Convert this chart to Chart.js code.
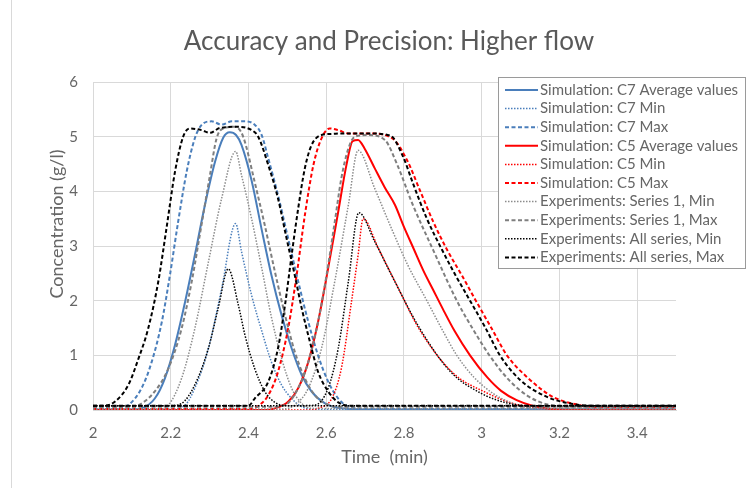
<!DOCTYPE html>
<html>
<head>
<meta charset="utf-8">
<script src="https://cdn.jsdelivr.net/npm/chart.js@4.4.1/dist/chart.umd.min.js"></script>
<style>
  html, body { margin: 0; padding: 0; background: #fff; }
  #chart { display: block; }
</style>
</head>
<body>
<canvas id="chart" width="750" height="488"></canvas>
<script>
const FONT = "Lato";

// tick labels on the time axis
const xTicks = [2, 2.2, 2.4, 2.6, 2.8, 3, 3.2, 3.4];

// [time (min), concentration (g/l)]
const c7Avg = [[2.0,0.01],[2.1,0.01],[2.125,0.03],[2.159,0.21],[2.185,0.58],[2.211,1.19],[2.237,1.98],[2.262,2.83],[2.288,3.75],[2.314,4.54],[2.335,4.98],[2.352,5.08],[2.368,5.03],[2.382,4.85],[2.408,4.2],[2.434,3.3],[2.459,2.47],[2.485,1.74],[2.511,1.13],[2.537,0.64],[2.562,0.34],[2.597,0.12],[2.639,0.03],[2.7,0.01],[3.5,0.01]];
const c7Min = [[2.0,0.01],[2.2,0.01],[2.237,0.09],[2.262,0.4],[2.297,1.13],[2.331,2.22],[2.367,3.41],[2.382,2.9],[2.408,2.1],[2.434,1.45],[2.459,0.88],[2.485,0.46],[2.511,0.21],[2.537,0.06],[2.57,0.01],[3.5,0.01]];
const c7Max = [[2.0,0.03],[2.06,0.03],[2.091,0.09],[2.125,0.4],[2.151,0.88],[2.177,1.61],[2.198,2.47],[2.219,3.44],[2.241,4.36],[2.262,4.97],[2.279,5.21],[2.305,5.28],[2.331,5.22],[2.357,5.28],[2.39,5.28],[2.416,5.22],[2.434,5.03],[2.451,4.6],[2.476,3.93],[2.502,3.14],[2.528,2.35],[2.554,1.61],[2.579,1.0],[2.605,0.52],[2.631,0.21],[2.657,0.06],[2.7,0.02],[3.5,0.02]];

const c5Avg = [[2.0,0],[2.44,0],[2.468,0.03],[2.502,0.15],[2.528,0.4],[2.554,0.88],[2.579,1.61],[2.605,2.59],[2.631,3.63],[2.652,4.48],[2.668,4.92],[2.682,4.94],[2.699,4.78],[2.725,4.42],[2.75,4.08],[2.777,3.75],[2.8,3.35],[2.825,2.95],[2.85,2.55],[2.875,2.2],[2.9,1.85],[2.93,1.45],[2.97,1.0],[3.014,0.6],[3.05,0.35],[3.09,0.18],[3.13,0.08],[3.18,0.02],[3.25,0],[3.5,0]];
const c5Min = [[2.0,0],[2.55,0],[2.579,0.03],[2.614,0.21],[2.639,0.76],[2.665,1.98],[2.682,2.83],[2.695,3.5],[2.734,2.96],[2.777,2.35],[2.841,1.46],[2.926,0.68],[3.014,0.31],[3.08,0.12],[3.15,0.03],[3.2,0],[3.5,0]];
const c5Max = [[2.0,0.02],[2.4,0.02],[2.416,0.04],[2.451,0.27],[2.476,0.7],[2.502,1.49],[2.524,2.47],[2.545,3.56],[2.567,4.48],[2.588,4.97],[2.609,5.15],[2.631,5.12],[2.657,5.06],[2.708,5.06],[2.77,4.97],[2.808,4.57],[2.841,4.02],[2.875,3.45],[2.911,2.93],[2.95,2.45],[2.985,2.0],[3.025,1.5],[3.065,1.0],[3.117,0.6],[3.183,0.24],[3.245,0.1],[3.3,0.05],[3.5,0.05]];

// experiments: one trace for the C7 peak, one for the C5 peak
const s1MinC7 = [[2.0,0.02],[2.17,0.02],[2.194,0.09],[2.228,0.58],[2.262,1.49],[2.297,2.71],[2.331,3.87],[2.367,4.73],[2.382,4.3],[2.408,3.5],[2.434,2.6],[2.459,1.7],[2.485,0.95],[2.511,0.4],[2.537,0.12],[2.56,0.03],[3.5,0.02]];
const s1MinC5 = [[2.0,0.02],[2.49,0.02],[2.519,0.09],[2.554,0.4],[2.588,1.13],[2.622,2.35],[2.657,3.75],[2.682,4.75],[2.725,4.05],[2.768,3.32],[2.81,2.65],[2.859,2.0],[2.9,1.45],[2.936,1.0],[2.98,0.6],[3.03,0.3],[3.08,0.12],[3.13,0.04],[3.5,0.02]];
const s1MaxC7 = [[2.0,0.06],[2.09,0.06],[2.117,0.09],[2.159,0.34],[2.194,0.76],[2.228,1.49],[2.254,2.35],[2.279,3.38],[2.301,4.3],[2.318,4.97],[2.335,5.15],[2.365,5.18],[2.38,5.1],[2.391,4.9],[2.416,4.17],[2.442,3.38],[2.468,2.53],[2.494,1.74],[2.519,1.07],[2.545,0.58],[2.571,0.27],[2.597,0.12],[2.63,0.06],[3.5,0.06]];
const s1MaxC5 = [[2.0,0.06],[2.46,0.06],[2.494,0.09],[2.528,0.4],[2.554,0.88],[2.579,1.61],[2.601,2.47],[2.622,3.44],[2.639,4.24],[2.657,4.78],[2.674,5.0],[2.708,5.03],[2.751,4.94],[2.782,4.5],[2.823,3.75],[2.875,2.93],[2.936,2.0],[2.98,1.45],[3.02,1.0],[3.07,0.55],[3.12,0.25],[3.17,0.1],[3.22,0.06],[3.5,0.06]];
const allMinC7 = [[2.0,0.08],[2.2,0.08],[2.228,0.12],[2.262,0.46],[2.297,1.13],[2.322,1.86],[2.348,2.58],[2.374,1.92],[2.391,1.37],[2.416,0.76],[2.442,0.34],[2.468,0.14],[2.5,0.08],[3.5,0.08]];
const allMinC5 = [[2.0,0.08],[2.54,0.08],[2.571,0.09],[2.605,0.4],[2.631,1.13],[2.657,2.35],[2.684,3.61],[2.725,3.08],[2.768,2.47],[2.84,1.5],[2.92,0.7],[3.0,0.3],[3.07,0.12],[3.12,0.08],[3.5,0.08]];
const allMaxC7 = [[2.0,0.08],[2.03,0.08],[2.056,0.15],[2.091,0.46],[2.117,0.94],[2.142,1.49],[2.168,2.35],[2.189,3.32],[2.211,4.36],[2.232,5.0],[2.249,5.15],[2.279,5.12],[2.301,5.07],[2.327,5.16],[2.374,5.18],[2.408,5.12],[2.425,5.0],[2.451,4.48],[2.476,3.87],[2.498,3.14],[2.519,2.47],[2.537,1.86],[2.558,1.25],[2.579,0.7],[2.605,0.34],[2.631,0.14],[2.66,0.08],[3.5,0.08]];
const allMaxC5 = [[2.0,0.08],[2.4,0.08],[2.416,0.21],[2.451,0.52],[2.476,1.13],[2.494,1.92],[2.511,2.83],[2.528,3.69],[2.545,4.42],[2.562,4.84],[2.588,5.03],[2.614,5.05],[2.64,5.06],[2.7,5.06],[2.765,5.02],[2.798,4.63],[2.823,4.15],[2.859,3.5],[2.898,2.93],[2.93,2.5],[2.97,2.0],[3.01,1.5],[3.047,1.0],[3.099,0.55],[3.168,0.24],[3.227,0.12],[3.28,0.08],[3.5,0.08]];

const BLUE = "#4a7ebb", RED = "#ff0000", GREY = "#7f7f7f", LIGHTGREY = "#8c8c8c", BLACK = "#000000";
const TEXT = "#666666";
const DASH = [4, 2.5], DOT = [1.5, 1.5];

const series = [
  { label: "Simulation: C7 Average values", parts: [c7Avg], color: BLUE, dash: [], width: 2 },
  { label: "Simulation: C7 Min", parts: [c7Min], color: BLUE, dash: DOT, width: 1.5 },
  { label: "Simulation: C7 Max", parts: [c7Max], color: BLUE, dash: DASH, width: 2 },
  { label: "Simulation: C5 Average values", parts: [c5Avg], color: RED, dash: [], width: 2 },
  { label: "Simulation: C5 Min", parts: [c5Min], color: RED, dash: DOT, width: 1.5 },
  { label: "Simulation: C5 Max", parts: [c5Max], color: RED, dash: DASH, width: 2 },
  { label: "Experiments: Series 1, Min", parts: [s1MinC7, s1MinC5], color: LIGHTGREY, dash: DOT, width: 1.5 },
  { label: "Experiments: Series 1, Max", parts: [s1MaxC7, s1MaxC5], color: GREY, dash: DASH, width: 2 },
  { label: "Experiments: All series, Min", parts: [allMinC7, allMinC5], color: BLACK, dash: DOT, width: 1.5 },
  { label: "Experiments: All series, Max", parts: [allMaxC7, allMaxC5], color: BLACK, dash: DASH, width: 2 }
];

// later series sit on top, like the original
const datasets = [];
series.forEach((s, i) => {
  s.parts.forEach(part => {
    datasets.push({
      label: s.label,
      data: part.map(([x, y]) => ({ x, y })),
      showLine: true,
      borderColor: s.color,
      backgroundColor: s.color,
      borderWidth: s.width,
      borderDash: s.dash,
      pointRadius: 0,
      cubicInterpolationMode: "monotone",
      order: series.length - i
    });
  });
});

// white background, thin frame line on the left, y axis title
const frame = {
  id: "frame",
  beforeDraw(chart) {
    const ctx = chart.ctx;
    ctx.save();
    ctx.fillStyle = "#fff";
    ctx.fillRect(0, 0, chart.width, chart.height);
    ctx.strokeStyle = "#d9d9d9";
    ctx.lineWidth = 1;
    ctx.beginPath();
    ctx.moveTo(11.5, 0);
    ctx.lineTo(11.5, chart.height);
    ctx.stroke();
    ctx.restore();
  },
  afterDraw(chart) {
    const ctx = chart.ctx;
    ctx.save();
    ctx.translate(57, 224);
    ctx.rotate(-Math.PI / 2);
    ctx.font = "18px " + FONT;
    ctx.fillStyle = TEXT;
    ctx.textAlign = "center";
    ctx.textBaseline = "middle";
    ctx.fillText("Concentration (g/l)", 0, 0);
    ctx.restore();
  }
};

// boxed legend in the top right corner
const legendBox = {
  id: "legendBox",
  afterDraw(chart) {
    const ctx = chart.ctx;
    ctx.save();
    ctx.fillStyle = "#fff";
    ctx.fillRect(498.5, 77.5, 247, 191);
    ctx.strokeStyle = "#9a9a9a";
    ctx.lineWidth = 1;
    ctx.strokeRect(498.5, 77.5, 247, 191);
    ctx.font = "15px " + FONT;
    ctx.textBaseline = "middle";
    series.forEach((s, i) => {
      const y = 90 + i * 18.6;
      ctx.beginPath();
      ctx.setLineDash(s.dash);
      ctx.strokeStyle = s.color;
      ctx.lineWidth = s.width;
      ctx.moveTo(505, y);
      ctx.lineTo(538, y);
      ctx.stroke();
      ctx.setLineDash([]);
      ctx.fillStyle = TEXT;
      ctx.fillText(s.label, 540, y);
    });
    ctx.restore();
  }
};

new Chart(document.getElementById("chart"), {
  type: "scatter",
  data: { datasets },
  plugins: [frame, legendBox],
  options: {
    responsive: false,
    animation: false,
    layout: { padding: { left: 28, right: 0, top: 0, bottom: 0 } },
    plugins: {
      legend: { display: false },
      tooltip: { enabled: false },
      title: {
        display: true,
        text: "Accuracy and Precision: Higher flow",
        color: "#595959",
        font: { family: FONT, size: 26, weight: "normal" },
        padding: { top: 26.4, bottom: 24.4 }
      }
    },
    scales: {
      x: {
        type: "linear",
        min: 2,
        max: 3.5,
        afterBuildTicks: s => { s.ticks = xTicks.map(v => ({ value: v })); },
        afterFit: s => { s.height = 78; },
        ticks: { color: TEXT, font: { family: FONT, size: 15 }, padding: 14, callback: v => String(v) },
        grid: { color: "#d9d9d9", drawTicks: false },
        border: { color: "#d9d9d9" },
        title: {
          display: true,
          text: "Time  (min)",
          color: TEXT,
          font: { family: FONT, size: 18 },
          padding: { top: 0, bottom: 20.2 }
        }
      },
      y: {
        min: 0,
        max: 6,
        afterFit: s => { s.width = 65; },
        ticks: { stepSize: 1, color: TEXT, font: { family: FONT, size: 15 }, padding: 15 },
        grid: { color: "#d9d9d9", drawTicks: false },
        border: { color: "#d9d9d9" }
      },
      spacer: {
        position: "right",
        min: 0,
        max: 1,
        afterFit: s => { s.width = 74; },
        ticks: { display: false },
        grid: { display: false, drawOnChartArea: false },
        border: { display: false }
      }
    }
  }
});
</script>
</body>
</html>
